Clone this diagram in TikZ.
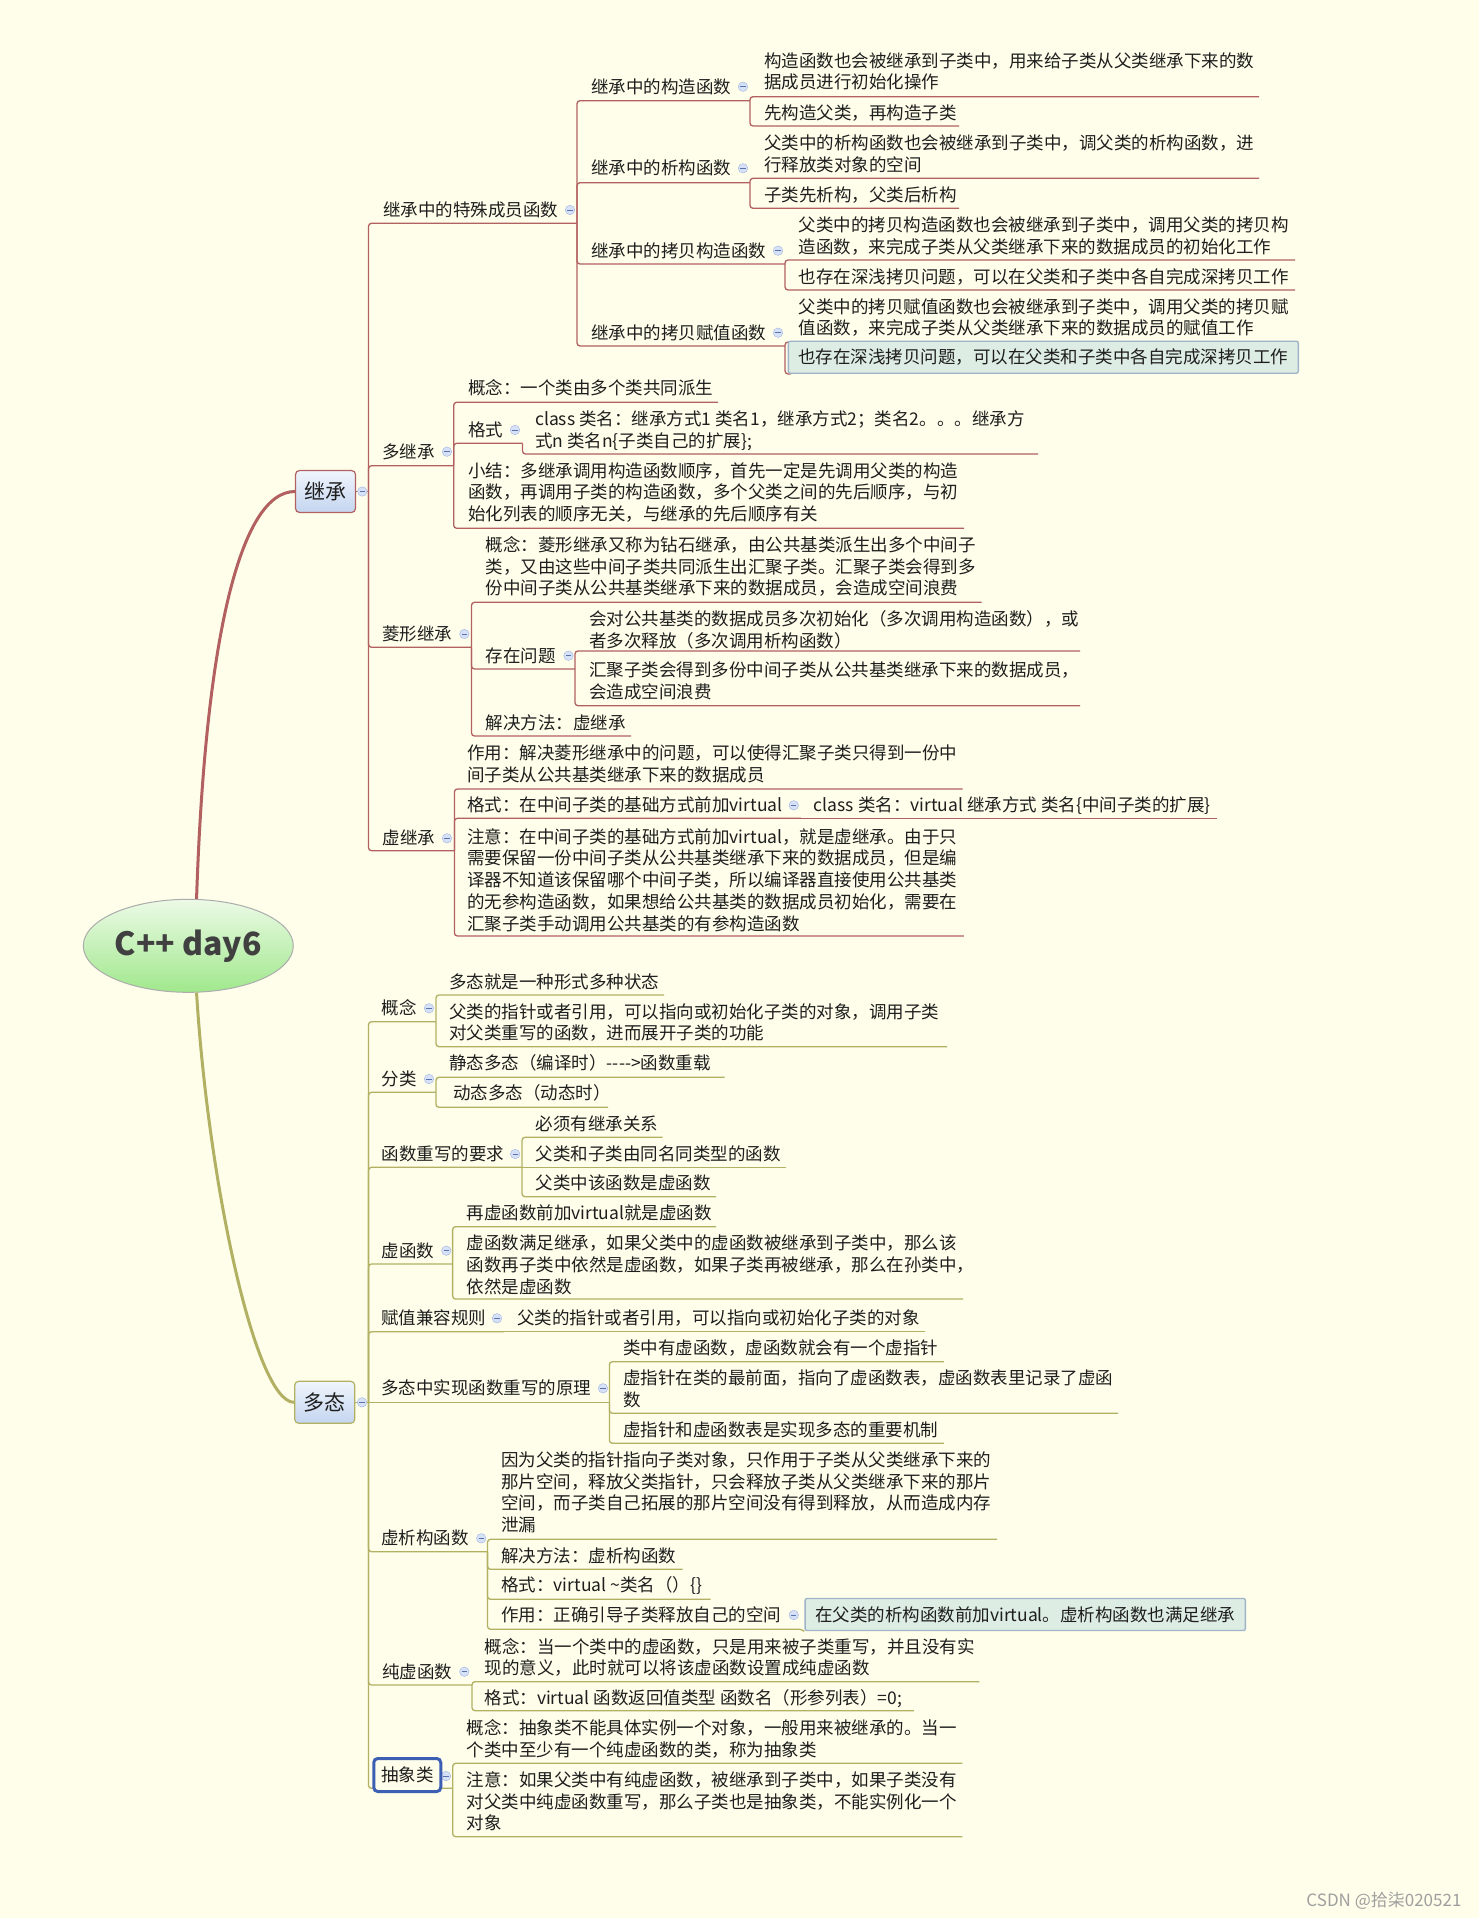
\documentclass[tikz,border=0pt]{standalone}
\usepackage{fontspec}
\setmainfont{Noto Sans CJK SC}
\usetikzlibrary{shapes.geometric}
\definecolor{bgc}{RGB}{254,254,234}
\definecolor{ink}{RGB}{30,30,30}
\definecolor{redln}{RGB}{178,96,96}
\definecolor{oliveln}{RGB}{178,176,98}
\definecolor{foldfill}{RGB}{214,225,248}
\definecolor{foldln}{RGB}{160,180,225}
\definecolor{foldmk}{RGB}{90,115,170}
\definecolor{boxtop}{RGB}{240,245,252}
\definecolor{boxbot}{RGB}{196,213,240}
\definecolor{selfill}{RGB}{222,237,228}
\definecolor{selln}{RGB}{160,180,200}
\definecolor{rttop}{RGB}{236,250,230}
\definecolor{rtbot}{RGB}{160,232,140}
\definecolor{absln}{RGB}{60,95,180}
\newcommand\tpfont{\fontsize{17.5}{21.7}\selectfont}
\tikzset{
  tp/.style={anchor=base west, inner sep=0pt, align=left, font=\tpfont, text=ink},
  fold/.style={circle, draw=foldln, fill=foldfill, minimum size=9.5pt, inner sep=0pt,
               path picture={\draw[foldmk, line width=.9pt]
                 ([xshift=-2.6pt]path picture bounding box.center) --
                 ([xshift=2.6pt]path picture bounding box.center);}},
  upl/.style={draw=redln, line width=1.3pt, rounded corners=3pt},
  lol/.style={draw=oliveln, line width=1.3pt, rounded corners=3pt},
  mainbox/.style={rounded corners=4pt, line width=1.2pt, top color=boxtop, bottom color=boxbot,
                  minimum width=60pt, minimum height=42pt, inner sep=0pt,
                  font=\fontsize{21}{24}\selectfont, text=ink},
  selbox/.style={draw=selln, line width=1.4pt, fill=selfill, rounded corners=2pt, anchor=west,
                 inner xsep=10pt, inner ysep=0pt, minimum height=32pt, font=\tpfont, text=ink},
}
\begin{document}
\begin{tikzpicture}[x=1pt,y=-1pt]
  \fill[bgc] (0,0) rectangle (1479,1918);
  \useasboundingbox (0,0) rectangle (1479,1918);

  \node[ellipse, draw=gray!65, line width=1pt, top color=rttop, bottom color=rtbot,
        minimum width=210pt, minimum height=93pt, inner sep=0pt,
        font=\fontsize{32}{36}\selectfont\bfseries, text=ink!85] (root) at (188.3,945.8) {C++ day6};
  \node[mainbox, draw=redln] (jc) at (325.5,491.5) {继承};
  \node[mainbox, draw=oliveln] (dt) at (324.7,1402.3) {多态};
  \draw[redln, line width=3pt] (root.80) .. controls (205,640) and (240,491.5) .. (jc.west);
  \draw[oliveln, line width=3pt] (root.-80) .. controls (208,1180) and (255,1402.3) .. (dt.west);

  \coordinate (jc-e) at (368.5,491.5);
  \coordinate (tsm-e) at (577,223.3);
  \coordinate (gz-e) at (750,100.7);
  \coordinate (gz1-e) at (1259,96.7);
  \coordinate (gz2-e) at (959,126);
  \coordinate (xg-e) at (750,182.7);
  \coordinate (xg1-e) at (1259,178.3);
  \coordinate (xg2-e) at (959,208.3);
  \coordinate (kb-e) at (785,264);
  \coordinate (kb1-e) at (1295,260);
  \coordinate (kb2-e) at (1295,290);
  \coordinate (fz-e) at (785,346);
  \coordinate (fz1-e) at (1295,342);
  \coordinate (dj-e) at (453.7,465.7);
  \coordinate (dj1-e) at (718,402.3);
  \coordinate (dj2-e) at (522.5,443.3);
  \coordinate (dj2a-e) at (1038,454);
  \coordinate (dj3-e) at (964,528.3);
  \coordinate (lx-e) at (471.5,647.3);
  \coordinate (lx1-e) at (981.7,602.3);
  \coordinate (lx2-e) at (575,669);
  \coordinate (lx2a-e) at (1080,651);
  \coordinate (lx2b-e) at (1080,705.7);
  \coordinate (lx3-e) at (631,736);
  \coordinate (xj-e) at (454.4,850.7);
  \coordinate (xj1-e) at (962.5,789);
  \coordinate (xj2-e) at (801,818.3);
  \coordinate (xj2a-e) at (1217,818.3);
  \coordinate (xj3-e) at (963.75,936);

  \coordinate (dt-e) at (368.5,1402.3);
  \coordinate (gn-e) at (436,1021.7);
  \coordinate (gn1-e) at (664,995);
  \coordinate (gn2-e) at (947,1046.7);
  \coordinate (fl-e) at (436,1092.3);
  \coordinate (fl1-e) at (724.7,1077.3);
  \coordinate (fl2-e) at (608,1107.3);
  \coordinate (cq-e) at (522,1167.3);
  \coordinate (cq1-e) at (662.7,1137.3);
  \coordinate (cq2-e) at (786,1167.3);
  \coordinate (cq3-e) at (716,1196.7);
  \coordinate (xh-e) at (452.6,1264);
  \coordinate (xh1-e) at (716,1226.7);
  \coordinate (xh2-e) at (963,1299);
  \coordinate (fj-e) at (504,1331.7);
  \coordinate (fj1-e) at (925,1331.7);
  \coordinate (yl-e) at (609.4,1402.3);
  \coordinate (yl1-e) at (943.75,1361.7);
  \coordinate (yl2-e) at (1118,1413.3);
  \coordinate (yl3-e) at (943.75,1443.3);
  \coordinate (xx-e) at (487.5,1551.7);
  \coordinate (xx1-e) at (997,1539.3);
  \coordinate (xx2-e) at (682.5,1569.3);
  \coordinate (xx3-e) at (710.6,1599.3);
  \coordinate (xx4-e) at (800,1629.3);
  \coordinate (cx-e) at (472,1685);
  \coordinate (cx1-e) at (979.3,1681.7);
  \coordinate (cx2-e) at (913.8,1710.7);
  \coordinate (cl-e) at (452.7,1788.3);
  \coordinate (cl1-e) at (962.4,1763.3);
  \coordinate (cl2-e) at (962.4,1836.7);

  \draw[upl] (jc.east) -- (jc-e);
  \draw[lol] (dt.east) -- (dt-e);
  \foreach \p/\c in {jc/tsm, jc/dj, jc/lx, jc/xj, tsm/gz, tsm/xg, tsm/kb, tsm/fz,
                     gz/gz1, gz/gz2, xg/xg1, xg/xg2, kb/kb1, kb/kb2, fz/fz1,
                     dj/dj1, dj/dj2, dj/dj3, dj2/dj2a, lx/lx1, lx/lx2, lx/lx3,
                     lx2/lx2a, lx2/lx2b, xj/xj1, xj/xj3}
    \draw[upl] (\p-e) |- (\c-e);
  \draw[upl] (xj2-e) -- (xj2a-e);
  \draw[upl] (xj-e) |- (xj2-e);
  \foreach \p/\c in {dt/gn, dt/fl, dt/cq, dt/xh, dt/fj, dt/xx, dt/cx, dt/cl,
                     gn/gn1, gn/gn2, fl/fl1, fl/fl2, cq/cq1, cq/cq3, xh/xh1, xh/xh2,
                     yl/yl1, yl/yl2, yl/yl3, xx/xx1, xx/xx2, xx/xx3, xx/xx4,
                     cx/cx1, cx/cx2, cl/cl1, cl/cl2}
    \draw[lol] (\p-e) |- (\c-e);
  \draw[lol] (dt-e) -- (yl-e);
  \draw[lol] (cq-e) -- (cq2-e);
  \draw[lol] (fj-e) -- (fj1-e);

  \node[tp] (tsm) at (383,216.5) {继承中的特殊成员函数};
  \node[tp] (gz) at (591,93.2) {继承中的构造函数};
  \node[tp] (gz1) at (764,88.9) {构造函数也会被继承到子类中，用来给子类从父类继承下来的数\\据成员进行初始化操作};
  \node[tp] (gz2) at (764,119.2) {先构造父类，再构造子类};
  \node[tp] (xg) at (591,174.8) {继承中的析构函数};
  \node[tp] (xg1) at (764,171.5) {父类中的析构函数也会被继承到子类中，调父类的析构函数，进\\行释放类对象的空间};
  \node[tp] (xg2) at (764,201.5) {子类先析构，父类后析构};
  \node[tp] (kb) at (591,257.2) {继承中的拷贝构造函数};
  \node[tp] (kb1) at (798.5,253.2) {父类中的拷贝构造函数也会被继承到子类中，调用父类的拷贝构\\造函数，来完成子类从父类继承下来的数据成员的初始化工作};
  \node[tp] (kb2) at (798.5,283.2) {也存在深浅拷贝问题，可以在父类和子类中各自完成深拷贝工作};
  \node[tp] (fz) at (591,339.2) {继承中的拷贝赋值函数};
  \node[tp] (fz1) at (798.5,334.9) {父类中的拷贝赋值函数也会被继承到子类中，调用父类的拷贝赋\\值函数，来完成子类从父类继承下来的数据成员的赋值工作};
  \node[selbox] (fz2) at (787.6,357.2) {也存在深浅拷贝问题，可以在父类和子类中各自完成深拷贝工作};
  \draw[upl] (fz-e) |- (fz2.south west);
  \node[tp] (dj) at (382,458.2) {多继承};
  \node[tp] (dj1) at (468,394.8) {概念：一个类由多个类共同派生};
  \node[tp] (dj2) at (468,436.5) {格式};
  \node[tp] (dj2a) at (535,447.5) {class 类名：继承方式1 类名1，继承方式2；类名2。。。继承方\\式n 类名n\{子类自己的扩展\};};
  \node[tp] (dj3) at (468,520.6) {小结：多继承调用构造函数顺序，首先一定是先调用父类的构造\\函数，再调用子类的构造函数，多个父类之间的先后顺序，与初\\始化列表的顺序无关，与继承的先后顺序有关};
  \node[tp] (lx) at (382,640.5) {菱形继承};
  \node[tp] (lx1) at (485.3,594.9) {概念：菱形继承又称为钻石继承，由公共基类派生出多个中间子\\类，又由这些中间子类共同派生出汇聚子类。汇聚子类会得到多\\份中间子类从公共基类继承下来的数据成员，会造成空间浪费};
  \node[tp] (lx2) at (485.3,662.2) {存在问题};
  \node[tp] (lx2a) at (589,647.5) {会对公共基类的数据成员多次初始化（多次调用构造函数），或\\者多次释放（多次调用析构函数）};
  \node[tp] (lx2b) at (589,698.2) {汇聚子类会得到多份中间子类从公共基类继承下来的数据成员，\\会造成空间浪费};
  \node[tp] (lx3) at (485.3,729.8) {解决方法：虚继承};
  \node[tp] (xj) at (382.5,844.8) {虚继承};
  \node[tp] (xj1) at (467,781.5) {作用：解决菱形继承中的问题，可以使得汇聚子类只得到一份中\\间子类从公共基类继承下来的数据成员};
  \node[tp] (xj2) at (467,811.8) {格式：在中间子类的基础方式前加virtual};
  \node[tp] (xj2a) at (813.75,811.8) {class 类名：virtual 继承方式 类名\{中间子类的扩展\}};
  \node[tp] (xj3) at (467,930) {注意：在中间子类的基础方式前加virtual，就是虚继承。由于只\\需要保留一份中间子类从公共基类继承下来的数据成员，但是编\\译器不知道该保留哪个中间子类，所以编译器直接使用公共基类\\的无参构造函数，如果想给公共基类的数据成员初始化，需要在\\汇聚子类手动调用公共基类的有参构造函数};

  \node[tp] (gn) at (381.5,1014.8) {概念};
  \node[tp] (gn1) at (449.2,988.2) {多态就是一种形式多种状态};
  \node[tp] (gn2) at (449.2,1039.9) {父类的指针或者引用，可以指向或初始化子类的对象，调用子类\\对父类重写的函数，进而展开子类的功能};
  \node[tp] (fl) at (381.5,1085.5) {分类};
  \node[tp] (fl1) at (449.2,1069.8) {静态多态（编译时）-{}-{}-{}->函数重载};
  \node[tp] (fl2) at (453,1099.8) {动态多态（动态时）};
  \node[tp] (cq) at (381.5,1160.5) {函数重写的要求};
  \node[tp] (cq1) at (535.3,1130.8) {必须有继承关系};
  \node[tp] (cq2) at (535.3,1160.5) {父类和子类由同名同类型的函数};
  \node[tp] (cq3) at (535.3,1189.8) {父类中该函数是虚函数};
  \node[tp] (xh) at (381.5,1257.2) {虚函数};
  \node[tp] (xh1) at (466.4,1219.8) {再虚函数前加virtual就是虚函数};
  \node[tp] (xh2) at (466.4,1293.2) {虚函数满足继承，如果父类中的虚函数被继承到子类中，那么该\\函数再子类中依然是虚函数，如果子类再被继承，那么在孙类中，\\依然是虚函数};
  \node[tp] (fj) at (381.25,1324.8) {赋值兼容规则};
  \node[tp] (fj1) at (517,1324.8) {父类的指针或者引用，可以指向或初始化子类的对象};
  \node[tp] (yl) at (381.25,1394.8) {多态中实现函数重写的原理};
  \node[tp] (yl1) at (623,1354.8) {类中有虚函数，虚函数就会有一个虚指针};
  \node[tp] (yl2) at (623,1406.5) {虚指针在类的最前面，指向了虚函数表，虚函数表里记录了虚函\\数};
  \node[tp] (yl3) at (623,1436.5) {虚指针和虚函数表是实现多态的重要机制};
  \node[tp] (xx) at (381.25,1544.8) {虚析构函数};
  \node[tp] (xx1) at (501,1531.6) {因为父类的指针指向子类对象，只作用于子类从父类继承下来的\\那片空间，释放父类指针，只会释放子类从父类继承下来的那片\\空间，而子类自己拓展的那片空间没有得到释放，从而造成内存\\泄漏};
  \node[tp] (xx2) at (501,1562.5) {解决方法：虚析构函数};
  \node[tp] (xx3) at (501,1591.5) {格式：virtual \textasciitilde{}类名（）\{\}};
  \node[tp] (xx4) at (501,1621.5) {作用：正确引导子类释放自己的空间};
  \node[selbox] (xx4a) at (804.4,1614.5) {在父类的析构函数前加virtual。虚析构函数也满足继承};
  \draw[lol] (xx4-e) -- (xx4a.south west);
  \node[tp] (cx) at (381.8,1678.2) {纯虚函数};
  \node[tp] (cx1) at (484.3,1674.9) {概念：当一个类中的虚函数，只是用来被子类重写，并且没有实\\现的意义，此时就可以将该虚函数设置成纯虚函数};
  \node[tp] (cx2) at (484.3,1704.8) {格式：virtual 函数返回值类型 函数名（形参列表）=0;};
  \node[tp] (cl1) at (466.6,1756.5) {概念：抽象类不能具体实例一个对象，一般用来被继承的。当一\\个类中至少有一个纯虚函数的类，称为抽象类};
  \node[tp] (cl2) at (466.6,1829.9) {注意：如果父类中有纯虚函数，被继承到子类中，如果子类没有\\对父类中纯虚函数重写，那么子类也是抽象类，不能实例化一个\\对象};

  \node[fold] (jc-f) at (362.3,491.5) {};
  \node[fold] (tsm-f) at (570,210) {};
  \node[fold] (gz-f) at (743,86.7) {};
  \node[fold] (xg-f) at (743,168.3) {};
  \node[fold] (kb-f) at (778,250.7) {};
  \node[fold] (fz-f) at (778,332.7) {};
  \node[fold] (dj-f) at (447,451.7) {};
  \node[fold] (dj2-f) at (515,430) {};
  \node[fold] (lx-f) at (464.4,634) {};
  \node[fold] (lx2-f) at (568.5,655.7) {};
  \node[fold] (xj-f) at (447,838.3) {};
  \node[fold] (xj2-f) at (793.75,805.3) {};
  \node[fold] (dt-f) at (362,1402.3) {};
  \node[fold] (gn-f) at (429,1008.3) {};
  \node[fold] (fl-f) at (429,1079) {};
  \node[fold] (cq-f) at (515.2,1154) {};
  \node[fold] (xh-f) at (446.3,1250.7) {};
  \node[fold] (fj-f) at (497,1318.3) {};
  \node[fold] (yl-f) at (603,1388.3) {};
  \node[fold] (xx-f) at (481.25,1538.3) {};
  \node[fold] (xx4-f) at (793.75,1615) {};
  \node[fold] (cx-f) at (464.3,1671.7) {};
  \node[fold] (cl-f) at (446,1776) {};

  \node[draw=absln, line width=3pt, fill=bgc, rounded corners=4pt, minimum width=67pt,
        minimum height=33pt, inner sep=0pt, font=\tpfont, text=ink] (cl) at (407.25,1775) {抽象类};

  \node[anchor=base east, font=\fontsize{17}{20}\selectfont, text=gray!75] (wm) at (1465,1906) {CSDN @拾柒020521};
\end{tikzpicture}
\end{document}
